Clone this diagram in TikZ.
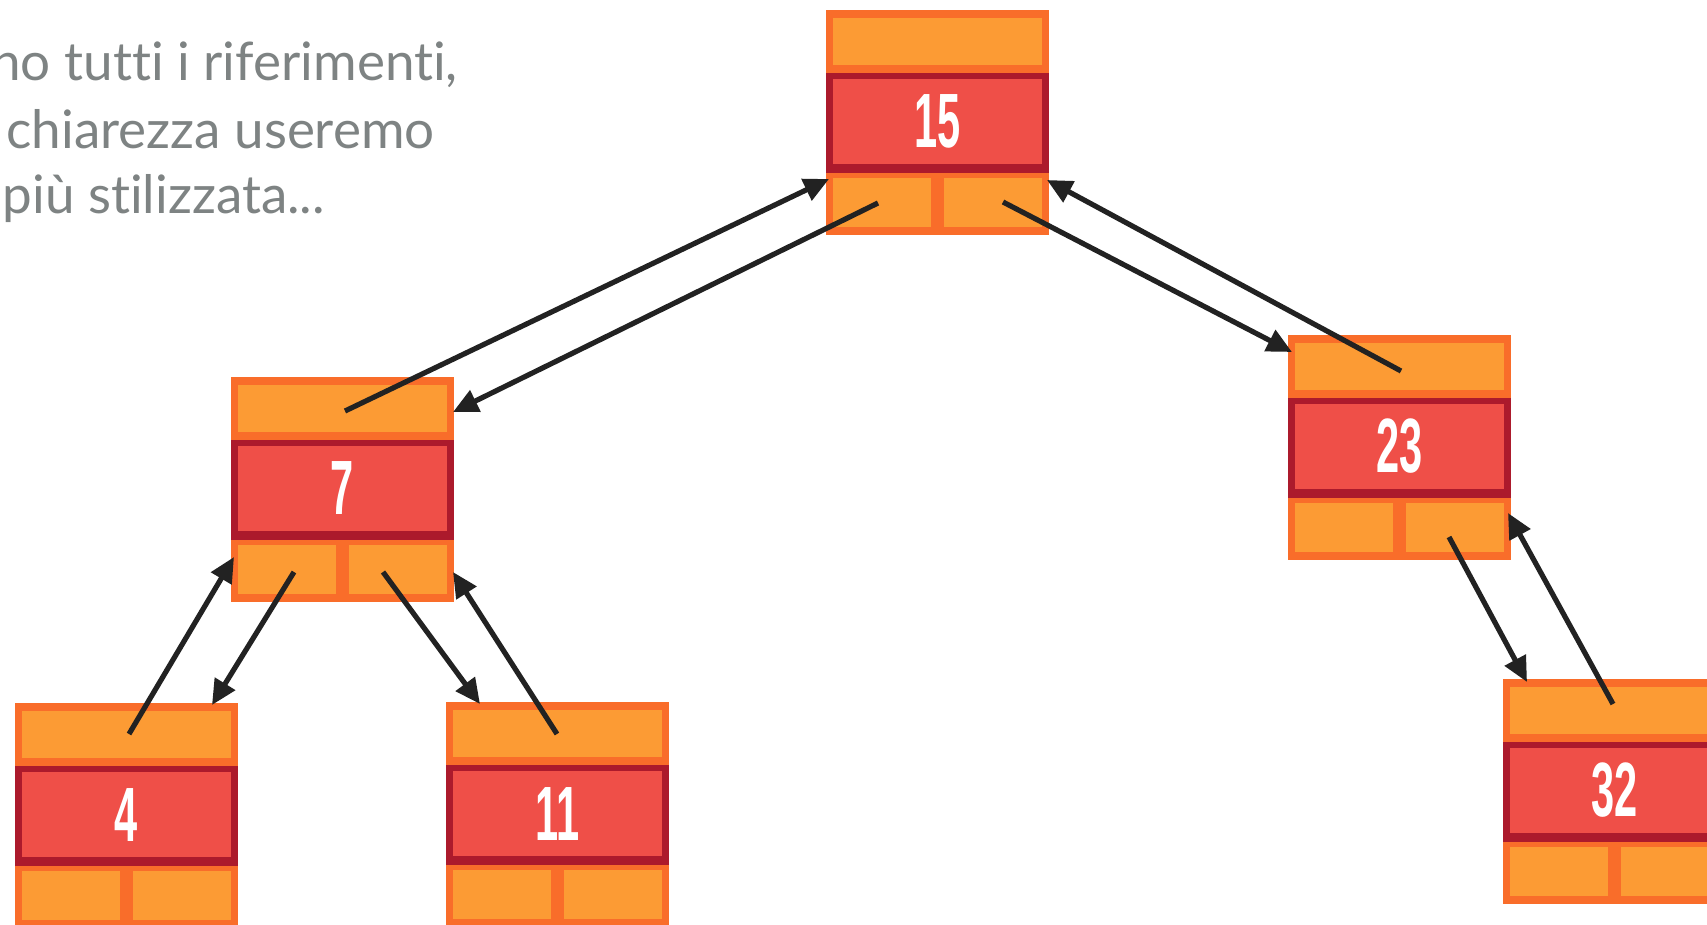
\documentclass[tikz,border=0pt]{standalone}
\usepackage{fontspec}
\setmainfont[Ligatures=NoCommon]{Lato}
\newfontfamily\numfont[FakeStretch=0.54]{Liberation Sans}
\usetikzlibrary{arrows.meta,calc}
\definecolor{obord}{HTML}{F96D2A}
\definecolor{ofill}{HTML}{FC9B34}
\definecolor{rbord}{HTML}{AC1A2C}
\definecolor{rfill}{HTML}{EF4F48}
\definecolor{arrc}{HTML}{222222}
\definecolor{txtg}{HTML}{7E8383}
\tikzset{
  outerbox/.style={rectangle, fill=obord, draw=none, minimum width=223pt, minimum height=225pt, inner sep=0pt, outer sep=0pt, anchor=north west},
  numlabel/.style={font=\numfont\bfseries\fontsize{77}{77}\selectfont, text=white, inner sep=0pt},
  txt/.style={font=\fontsize{53}{53}\selectfont, text=txtg, inner sep=0pt, anchor=base east},
  arr/.style={draw=arrc, line width=5.2pt, -{Triangle[length=25pt,width=23pt]}}
}
\newcommand\treenode[4]{%
  \begin{scope}[shift={(#2,#3)}]
    \node[outerbox] (#1) at (0,0) {};
    \fill[ofill] (7,8) rectangle (216,55);
    \fill[rbord] (0,63) rectangle (223,163);
    \fill[rfill] (7,69) rectangle (216,154);
    \fill[ofill] (7,168) rectangle (105,217);
    \fill[ofill] (118,168) rectangle (216,217);
    \node[numlabel] (#1-lab) at (111.5,111.5) {#4};
  \end{scope}}
\begin{document}
\begin{tikzpicture}[x=1pt,y=-1pt]
\useasboundingbox (0,0) rectangle (1707,924);
\fill[white] (0,0) rectangle (1707,924);
\clip (0,0) rectangle (1707,924);
\node[txt] (t1) at (458,80) {no tutti i riferimenti,};
\node[txt] (t2) at (435,148) {chiarezza useremo};
\node[txt] (t3) at (325,213) {più stilizzata...};
\treenode{n15}{826}{10}{15}
\treenode{n7}{231}{377}{7}
\treenode{n23}{1288}{335}{23}
\treenode{n4}{15}{703}{4}
\treenode{n11}{446}{702}{11}
\treenode{n32}{1503}{679}{32}
\draw[arr] ($(n7.north west)+(114,34)$) -- ($(n15.north west)+(3,169)$);
\draw[arr] ($(n15.north west)+(52,193)$) -- ($(n7.north west)+(222,35)$);
\draw[arr] ($(n15.north west)+(177,192)$) -- ($(n23.north west)+(4,17)$);
\draw[arr] ($(n23.north west)+(113,36)$) -- ($(n15.north west)+(221,170)$);
\draw[arr] ($(n7.north west)+(63,195)$) -- ($(n4.north west)+(197,2)$);
\draw[arr] ($(n4.north west)+(114,31)$) -- ($(n7.north west)+(3,180)$);
\draw[arr] ($(n7.north west)+(152,195)$) -- ($(n11.north west)+(34,2)$);
\draw[arr] ($(n11.north west)+(111,32)$) -- ($(n7.north west)+(222,195)$);
\draw[arr] ($(n23.north west)+(161,202)$) -- ($(n32.north west)+(24,3)$);
\draw[arr] ($(n32.north west)+(110,25)$) -- ($(n23.north west)+(220,178)$);
\end{tikzpicture}
\end{document}
